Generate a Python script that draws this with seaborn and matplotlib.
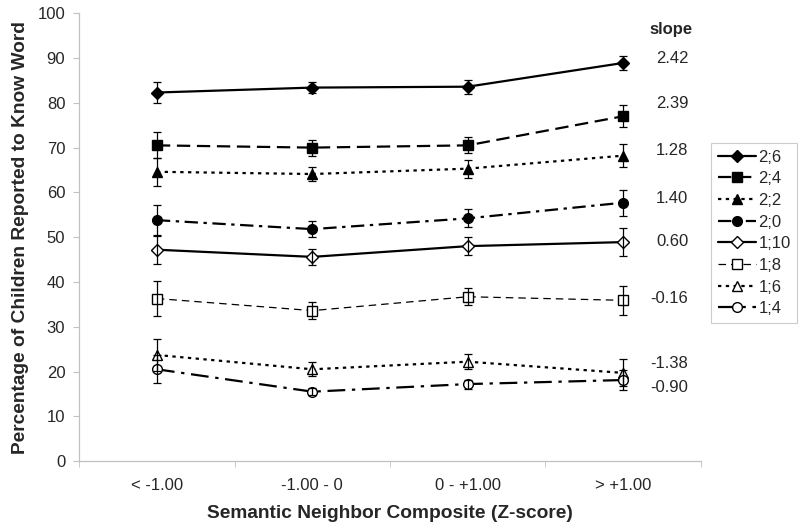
import numpy as np
import pandas as pd
import seaborn as sns
import matplotlib.pyplot as plt
from matplotlib.ticker import FixedLocator

categories = ['< -1.00', '-1.00 - 0', '0 - +1.00', '> +1.00']
ages = ['2;6', '2;4', '2;2', '2;0', '1;10', '1;8', '1;6', '1;4']

pct_2_6 = [82.3, 83.4, 83.6, 88.9]
pct_2_4 = [70.5, 70.0, 70.5, 77.0]
pct_2_2 = [64.6, 64.1, 65.3, 68.2]
pct_2_0 = [53.8, 51.8, 54.2, 57.7]
pct_1_10 = [47.2, 45.6, 48.0, 48.9]
pct_1_8 = [36.3, 33.6, 36.7, 35.9]
pct_1_6 = [23.7, 20.5, 22.2, 19.7]
pct_1_4 = [20.5, 15.5, 17.2, 18.1]

err_2_6 = [2.3, 1.3, 1.6, 1.5]
err_2_4 = [2.9, 1.8, 1.8, 2.5]
err_2_2 = [3.1, 1.6, 2.0, 2.6]
err_2_0 = [3.3, 1.8, 2.0, 2.9]
err_1_10 = [3.1, 1.8, 2.0, 3.2]
err_1_8 = [3.9, 1.9, 1.9, 3.2]
err_1_6 = [3.6, 1.6, 1.7, 3.0]
err_1_4 = [3.1, 0.8, 1.0, 2.2]

slopes = ['2.42', '2.39', '1.28', '1.40', '0.60', '-0.16', '-1.38', '-0.90']

values = [pct_2_6, pct_2_4, pct_2_2, pct_2_0, pct_1_10, pct_1_8, pct_1_6, pct_1_4]
errors = [err_2_6, err_2_4, err_2_2, err_2_0, err_1_10, err_1_8, err_1_6, err_1_4]

# style per series: marker, filled, linestyle, linewidth
styles = {
    '2;6': ('D', True, '-', 1.6),
    '2;4': ('s', True, (0, (6, 3)), 1.6),
    '2;2': ('^', True, (0, (1.5, 2)), 1.6),
    '2;0': ('o', True, (0, (6, 2.5, 1.5, 2.5)), 1.6),
    '1;10': ('D', False, '-', 1.6),
    '1;8': ('s', False, (0, (6, 4)), 0.9),
    '1;6': ('^', False, (0, (1.5, 2)), 1.6),
    '1;4': ('o', False, (0, (8, 3, 1.5, 3)), 1.6),
}
# where the slope column sits (layout only)
slope_y = [90.0, 79.9, 69.4, 58.7, 49.1, 36.4, 21.7, 16.5]

sns.set_style('white')
plt.rcParams['font.family'] = ['Liberation Sans', 'DejaVu Sans']

fig = plt.figure(figsize=(8, 5.3), dpi=100)
ax = fig.add_axes([0.099, 0.13, 0.777, 0.845])

for age, vals, errs in zip(ages, values, errors):
    marker, filled, ls, lw = styles[age]
    df = pd.DataFrame({'category': categories, 'pct': vals})
    sns.lineplot(data=df, x='category', y='pct', ax=ax, sort=False,
                 color='black', linestyle=ls, linewidth=lw, marker=marker,
                 markersize=7 if marker != 'D' else 6,
                 markerfacecolor='black' if filled else 'white',
                 markeredgecolor='black', markeredgewidth=1.0,
                 label=age, zorder=3)
    ax.errorbar(categories, vals, yerr=errs, fmt='none', ecolor='black',
                elinewidth=0.9, capsize=3, capthick=0.9, zorder=4)

for lab, y in zip(slopes, slope_y):
    ax.text(3.42, y, lab, ha='right', va='center', fontsize=12)
ax.text(3.31, 96.4, 'slope', ha='center', va='center', fontsize=12,
        fontweight='bold')

ax.set_xlim(-0.5, 3.5)
ax.set_ylim(0, 100)
ax.set_yticks(np.arange(0, 101, 10))
ax.xaxis.set_minor_locator(FixedLocator([-0.5, 0.5, 1.5, 2.5, 3.5]))
ax.tick_params(axis='x', which='major', length=0, pad=12, labelsize=12)
ax.tick_params(axis='x', which='minor', length=4, color='#c0c0c0',
               direction='out', bottom=True)
ax.tick_params(axis='y', length=4, color='#c0c0c0', direction='out',
               left=True, pad=6, labelsize=12)

for side in ['top', 'right']:
    ax.spines[side].set_visible(False)
for side in ['left', 'bottom']:
    ax.spines[side].set_color('#c0c0c0')
    ax.spines[side].set_linewidth(0.9)

ax.set_xlabel('Semantic Neighbor Composite (Z-score)', fontsize=13.8,
              fontweight='bold', labelpad=9)
ax.set_ylabel('Percentage of Children Reported to Know Word', fontsize=13.8,
              fontweight='bold', labelpad=6)

leg = ax.legend(loc='upper left', bbox_to_anchor=(711 / 800, 1 - 143 / 530),
                bbox_transform=fig.transFigure, borderaxespad=0,
                frameon=True, fancybox=False, fontsize=12,
                handlelength=2.3, labelspacing=0.4, handletextpad=0.15,
                borderpad=0.4)
leg.get_frame().set_edgecolor('#c0c0c0')
leg.get_frame().set_linewidth(0.8)

fig.savefig('out.png', dpi=100)
